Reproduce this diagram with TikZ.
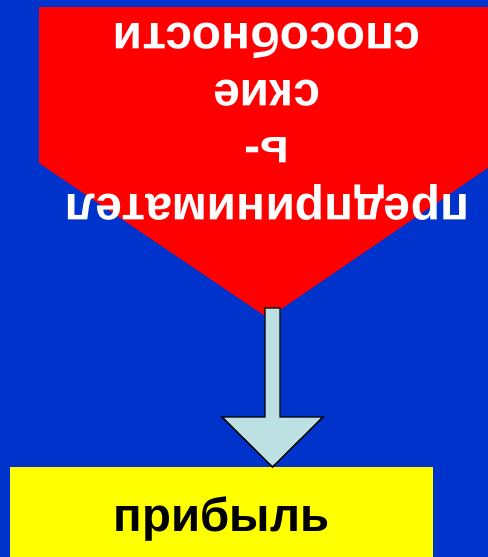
\documentclass[tikz,border=0pt]{standalone}
\usepackage{fontspec}
\setmainfont{Liberation Sans}
\usetikzlibrary{positioning,calc}
\definecolor{bgblue}{RGB}{0,51,204}
\definecolor{arrowblue}{RGB}{189,224,226}
\definecolor{boxyellow}{RGB}{255,255,0}
\tikzset{abilitytext/.style={rotate=180, text=white, align=center,
           inner sep=0pt, font=\bfseries\fontsize{36}{42.75}\selectfont},
         profitbox/.style={fill=boxyellow, minimum width=317pt, minimum height=90pt,
           inner sep=0pt},
         profitlabel/.style={font=\bfseries\fontsize{35.5}{42}\selectfont},
         blockarrow/.style={fill=arrowblue, draw=black, line width=1.1pt,
           line join=miter}}
\begin{document}
\begin{tikzpicture}[x=0.75pt,y=-0.75pt]
	  \fill[bgblue] (0,0) rectangle (488,557);
	  \useasboundingbox (0,0) rectangle (488,557);
	  % red pentagon pointing down
	  \fill[red] (39,7) -- (495,7) -- (495,163) -- (268,318) -- (39,163) -- cycle;
	  \node[abilitytext] (ability) at (267,122)
	    {предпринимател\\ь-\\ские\\способности};
	  \node[profitbox, anchor=north] (profit) at (221.5,467) {};
	  \node[profitlabel] (profittext) at (221.5,519) {прибыль};
	  % block arrow
	  \coordinate (shafttop) at (272.5,308);
	  \coordinate (arrowtip) at (shafttop |- profit.north);
	  \draw[blockarrow] ($(shafttop)+(-7.5,0)$) -- ($(shafttop)+(7.5,0)$)
	    -- ($(arrowtip)+(7.5,-50)$) -- ($(arrowtip)+(50.5,-50)$) -- (arrowtip)
	    -- ($(arrowtip)+(-50.5,-50)$) -- ($(arrowtip)+(-7.5,-50)$) -- cycle;
	\end{tikzpicture}
\end{document}
